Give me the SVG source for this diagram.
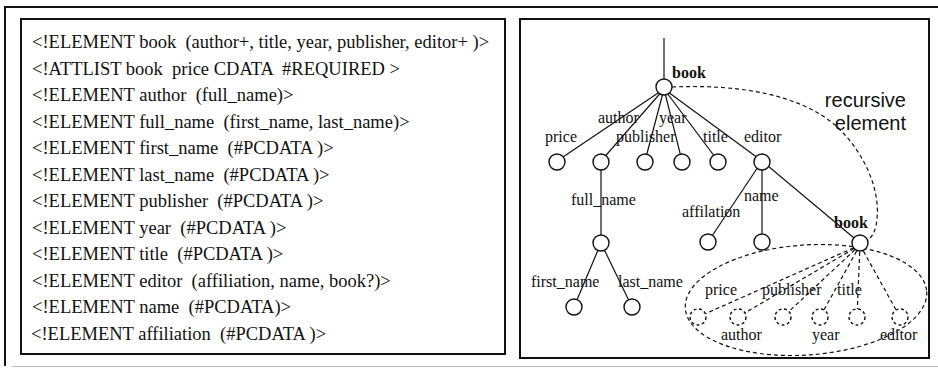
<svg xmlns="http://www.w3.org/2000/svg" width="938" height="369" viewBox="0 0 938 369">
<style>
.frame{fill:none;stroke:#111;stroke-width:2}
.dtd{font-family:"Liberation Serif","Times New Roman",serif;font-size:18.5px;fill:#111;white-space:pre}
.lbl{font-family:"Liberation Serif","Times New Roman",serif;font-size:16px;fill:#111}
.bold{font-weight:bold}
.sans{font-family:"Liberation Sans",Arial,sans-serif;font-size:20px;fill:#111}
.edge{stroke:#111;stroke-width:1.2;fill:none}
.dash{stroke:#111;stroke-width:1.2;fill:none;stroke-dasharray:4 3}
.node{fill:#fff;stroke:#111;stroke-width:1.4}
.dnode{fill:#fff;stroke:#111;stroke-width:1.4;stroke-dasharray:3 2.5}
</style>
<rect width="938" height="369" fill="#fff"/>
<g id="outer">
<path d="M5,366 L5,7 L938,7" class="frame"/>
<line x1="12" y1="366.5" x2="938" y2="366.5" stroke="#bbb" stroke-width="1"/>
</g>
<g id="dtd-panel">
<rect x="21" y="19" width="484" height="335" class="frame"/>
<text class="dtd" x="32" y="48">&lt;!ELEMENT book  (author+, title, year, publisher, editor+ )&gt;</text>
<text class="dtd" x="32" y="74.5">&lt;!ATTLIST book  price CDATA  #REQUIRED &gt;</text>
<text class="dtd" x="32" y="101">&lt;!ELEMENT author  (full_name)&gt;</text>
<text class="dtd" x="32" y="127.5">&lt;!ELEMENT full_name  (first_name, last_name)&gt;</text>
<text class="dtd" x="32" y="154">&lt;!ELEMENT first_name  (#PCDATA )&gt;</text>
<text class="dtd" x="32" y="180.5">&lt;!ELEMENT last_name  (#PCDATA )&gt;</text>
<text class="dtd" x="32" y="207">&lt;!ELEMENT publisher  (#PCDATA )&gt;</text>
<text class="dtd" x="32" y="233.5">&lt;!ELEMENT year  (#PCDATA )&gt;</text>
<text class="dtd" x="32" y="260">&lt;!ELEMENT title  (#PCDATA )&gt;</text>
<text class="dtd" x="32" y="286.5">&lt;!ELEMENT editor  (affiliation, name, book?)&gt;</text>
<text class="dtd" x="32" y="313">&lt;!ELEMENT name  (#PCDATA)&gt;</text>
<text class="dtd" x="31" y="339.5">&lt;!ELEMENT affiliation  (#PCDATA )&gt;</text>
</g>
<g id="tree-panel">
<rect x="520" y="19" width="409" height="339" class="frame"/>
</g>
<g id="connectors">
<line class="edge" x1="664" y1="38" x2="664" y2="87"/>
<line class="edge" x1="664" y1="89" x2="557" y2="161"/>
<line class="edge" x1="664" y1="89" x2="601" y2="161"/>
<line class="edge" x1="664" y1="89" x2="645" y2="161"/>
<line class="edge" x1="664" y1="89" x2="682" y2="161"/>
<line class="edge" x1="664" y1="89" x2="718" y2="161"/>
<line class="edge" x1="664" y1="89" x2="762" y2="161"/>
<line class="edge" x1="601" y1="161" x2="601" y2="243"/>
<line class="edge" x1="601" y1="243" x2="574" y2="307"/>
<line class="edge" x1="601" y1="243" x2="632" y2="307"/>
<line class="edge" x1="762" y1="161" x2="708" y2="242"/>
<line class="edge" x1="762" y1="161" x2="762" y2="242"/>
<line class="edge" x1="762" y1="161" x2="860" y2="243"/>
<line class="dash" x1="860" y1="245" x2="698" y2="317"/>
<line class="dash" x1="860" y1="245" x2="738" y2="317"/>
<line class="dash" x1="860" y1="245" x2="783" y2="317"/>
<line class="dash" x1="860" y1="245" x2="820" y2="317"/>
<line class="dash" x1="860" y1="245" x2="857" y2="317"/>
<line class="dash" x1="860" y1="245" x2="900" y2="317"/>
<path class="dash" d="M672,87 C740,84 800,95 835,125 C865,152 880,190 877,218 C876,230 873,237 867,240"/>
<ellipse class="dash" cx="806" cy="300" rx="121" ry="55" transform="rotate(-4 806 300)"/>
</g>
<g id="n-book"><circle class="node" cx="664" cy="87" r="8"/><text class="lbl bold" x="672" y="78">book</text></g>
<g id="n-price"><circle class="node" cx="557" cy="162" r="8"/><text class="lbl" x="545" y="142">price</text></g>
<g id="n-author"><circle class="node" cx="601" cy="162" r="8"/><text class="lbl" x="598" y="123">author</text></g>
<g id="n-publisher"><circle class="node" cx="645" cy="162" r="8"/><text class="lbl" x="616" y="142">publisher</text></g>
<g id="n-year"><circle class="node" cx="682" cy="162" r="8"/><text class="lbl" x="659" y="123">year</text></g>
<g id="n-title"><circle class="node" cx="718" cy="162" r="8"/><text class="lbl" x="703" y="142">title</text></g>
<g id="n-editor"><circle class="node" cx="762" cy="162" r="8"/><text class="lbl" x="744" y="142">editor</text></g>
<g id="n-full_name"><circle class="node" cx="601" cy="243" r="8"/><text class="lbl" x="571" y="205">full_name</text></g>
<g id="n-first_name"><circle class="node" cx="574" cy="307" r="8"/><text class="lbl" x="531" y="287">first_name</text></g>
<g id="n-last_name"><circle class="node" cx="632" cy="307" r="8"/><text class="lbl" x="618" y="287">last_name</text></g>
<g id="n-affilation"><circle class="node" cx="708" cy="242" r="8"/><text class="lbl" x="682" y="217">affilation</text></g>
<g id="n-name"><circle class="node" cx="762" cy="242" r="8"/><text class="lbl" x="744" y="201">name</text></g>
<g id="n-book2"><circle class="node" cx="860" cy="243" r="8"/><text class="lbl bold" x="834" y="228">book</text></g>
<g id="n-price2"><circle class="dnode" cx="698" cy="317" r="8"/><text class="lbl" x="705" y="295">price</text></g>
<g id="n-author2"><circle class="dnode" cx="738" cy="317" r="8"/><text class="lbl" x="721" y="340">author</text></g>
<g id="n-publisher2"><circle class="dnode" cx="783" cy="317" r="8"/><text class="lbl" x="762" y="295">publisher</text></g>
<g id="n-year2"><circle class="dnode" cx="820" cy="317" r="8"/><text class="lbl" x="812" y="340">year</text></g>
<g id="n-title2"><circle class="dnode" cx="857" cy="317" r="8"/><text class="lbl" x="837" y="295">title</text></g>
<g id="n-editor2"><circle class="dnode" cx="900" cy="317" r="8"/><text class="lbl" x="880" y="340">editor</text></g>
<g id="recursive-label">
<text class="sans" x="906" y="107" text-anchor="end">recursive</text>
<text class="sans" x="906" y="130" text-anchor="end">element</text>
</g>
</svg>
